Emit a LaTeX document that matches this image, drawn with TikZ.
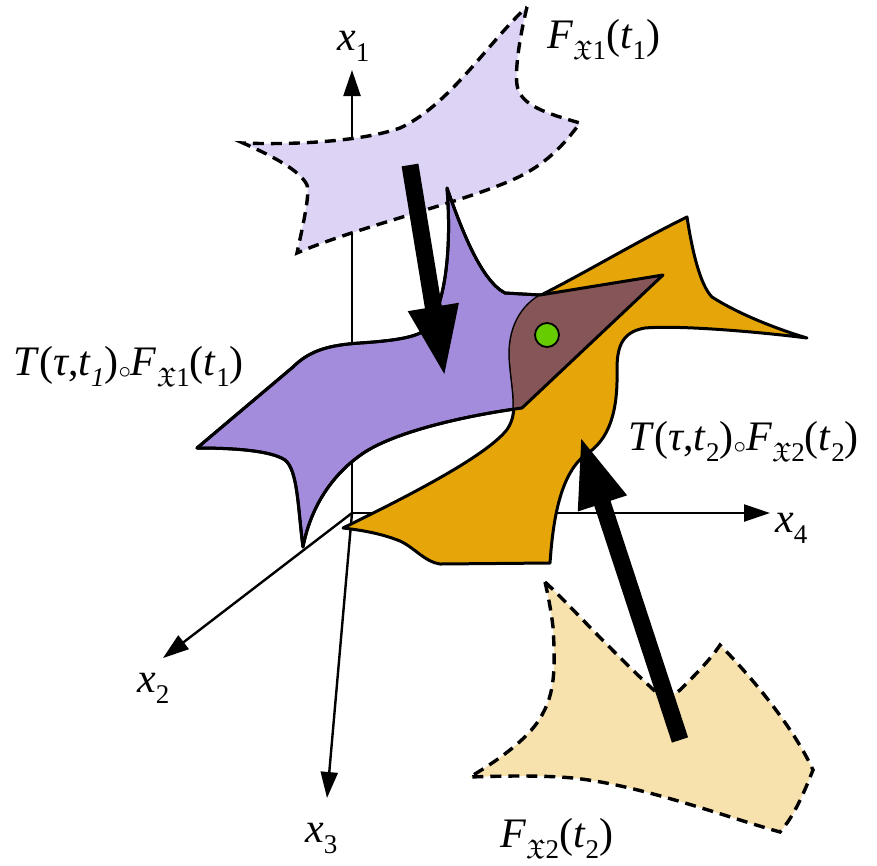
\documentclass[tikz,border=0pt]{standalone}
\usepackage{fontspec}
\setmainfont{Liberation Serif}
\usepackage{amssymb}
\usetikzlibrary{arrows.meta}
\definecolor{lpurple}{HTML}{DDD3F5}
\definecolor{mpurple}{HTML}{A48CDC}
\definecolor{morange}{HTML}{E6A60A}
\definecolor{lorange}{HTML}{F7E2AE}
\definecolor{mbrown}{HTML}{855558}
\definecolor{mgreen}{HTML}{66CC00}
\newcommand\sbs[1]{\raisebox{-11pt}{\fontsize{27}{27}\selectfont #1}}
\newcommand\xfrak{$\mathfrak{X}$}
\newcommand\cmp{\raisebox{-3pt}{\fontsize{62}{62}\selectfont$\circ$}}
\begin{document}
\begin{tikzpicture}[x=1pt,y=-1pt,
  every node/.style={font=\fontsize{42}{48}\selectfont, inner sep=0pt},
  axisline/.style={line width=2.4pt, -{Triangle[length=26pt,width=17pt]}},
  outl/.style={draw=black, line width=3pt, line join=round},
  dashout/.style={draw=black, line width=3.4pt, dash pattern=on 11pt off 7pt},
  bigarrow/.style={line width=17pt, -{Triangle[length=72pt,width=46pt]}}]
\useasboundingbox (0,0) rectangle (877,865);

% axes
\coordinate (O) at (352,513);
\coordinate (X1) at (352,70);
\coordinate (X2) at (163,658);
\coordinate (X3) at (327,798);
\coordinate (X4) at (770,513);
\draw[axisline] (O) -- (X1);
\draw[axisline] (O) -- (X2);
\draw[axisline] (O) -- (X3);
\draw[axisline] (O) -- (X4);

% light purple (dashed) F_X1(t1)
\def\lpurplepath{(527,7) .. controls (519,40) and (515,70) .. (517,85)
  .. controls (520,105) and (545,113) .. (580,123)
  .. controls (560,150) and (540,170) .. (500,185)
  .. controls (450,205) and (350,230) .. (297,253)
  .. controls (303,225) and (310,195) .. (307,185)
  .. controls (300,170) and (270,155) .. (243,143)
  .. controls (290,145) and (360,142) .. (400,128)
  .. controls (450,105) and (490,40) .. (527,7) -- cycle}
\path[fill=lpurple] \lpurplepath;
\path[dashout] \lpurplepath;

% purple shape
\def\purplepath{(197,448) -- (293,367) .. controls (310,350) and (330,345) .. (360,343)
  .. controls (390,341) and (415,338) .. (425,330)
  .. controls (445,310) and (452,250) .. (447,188)
  .. controls (460,225) and (480,280) .. (505,293)
  -- (540,295) -- (663,275) -- (522,408)
  .. controls (470,415) and (400,430) .. (365,452)
  .. controls (330,475) and (310,510) .. (303,547)
  .. controls (298,510) and (298,470) .. (285,460)
  .. controls (270,450) and (230,448) .. (197,448) -- cycle}
\path[outl, fill=mpurple] \purplepath;

% orange shape
\def\orangepath{(343,528) .. controls (400,500) and (480,460) .. (505,432)
  .. controls (520,415) and (512,390) .. (510,360)
  .. controls (508,330) and (520,305) .. (545,293)
  .. controls (590,270) and (640,240) .. (687,217)
  .. controls (692,250) and (700,285) .. (712,297)
  .. controls (740,315) and (780,330) .. (807,338)
  .. controls (760,332) and (680,325) .. (645,328)
  .. controls (620,332) and (617,350) .. (617,370)
  .. controls (618,410) and (610,440) .. (585,455)
  .. controls (560,475) and (553,520) .. (550,563)
  -- (440,564) .. controls (425,562) and (415,548) .. (400,541)
  .. controls (380,533) and (360,530) .. (343,528) -- cycle}
\path[outl, fill=morange] \orangepath;

% overlap
\begin{scope}
\clip \orangepath;
\fill[mbrown] \purplepath;
\end{scope}
\path[outl] \purplepath;

% green point
\node[circle, fill=mgreen, draw=black, line width=1.8pt, minimum size=24pt] (pt) at (547,335) {};

% light orange (dashed) F_X2(t2)
\def\lorangepath{(545,582) .. controls (565,600) and (610,650) .. (657,693)
  .. controls (667,698) and (675,695) .. (680,690)
  .. controls (695,675) and (710,660) .. (720,645)
  .. controls (740,665) and (790,720) .. (813,770)
  .. controls (805,790) and (795,815) .. (780,832)
  .. controls (720,815) and (640,785) .. (573,778)
  .. controls (540,775) and (500,776) .. (470,777)
  .. controls (490,765) and (530,740) .. (543,713)
  .. controls (556,690) and (555,660) .. (553,627)
  .. controls (551,610) and (548,595) .. (545,582) -- cycle}
\path[fill=lorange] \lorangepath;
\path[dashout] \lorangepath;

% big arrows
\coordinate (a1s) at (410,165);
\coordinate (a1e) at (445,378);
\coordinate (a2s) at (680,740);
\coordinate (a2e) at (580,435);
\draw[bigarrow] (a1s) -- (a1e);
\draw[bigarrow] (a2s) -- (a2e);

% labels
\node[anchor=base west] (lx1) at (337,50) {\textit{x}\sbs{1}};
\node[anchor=base west] (lx2) at (137,692) {\textit{x}\sbs{2}};
\node[anchor=base west] (lx3) at (305,842) {\textit{x}\sbs{3}};
\node[anchor=base west] (lx4) at (775,532) {\textit{x}\sbs{4}};
\node[anchor=base west] (lf1) at (547,48) {\textit{F}\sbs{\xfrak1}(\textit{t}\sbs{1})};
\node[anchor=base west] (lt1) at (13,375) {\textit{T}(\textit{τ},\textit{t}\sbs{\textit{1}})\cmp\textit{F}\sbs{\xfrak1}(\textit{t}\sbs{1})};
\node[anchor=base west] (lt2) at (628,450) {\textit{T}(\textit{τ},\textit{t}\sbs{2})\cmp\textit{F}\sbs{\xfrak2}(\textit{t}\sbs{2})};
\node[anchor=base west] (lf2) at (500,847) {\textit{F}\sbs{\xfrak2}(\textit{t}\sbs{2})};
\end{tikzpicture}
\end{document}
